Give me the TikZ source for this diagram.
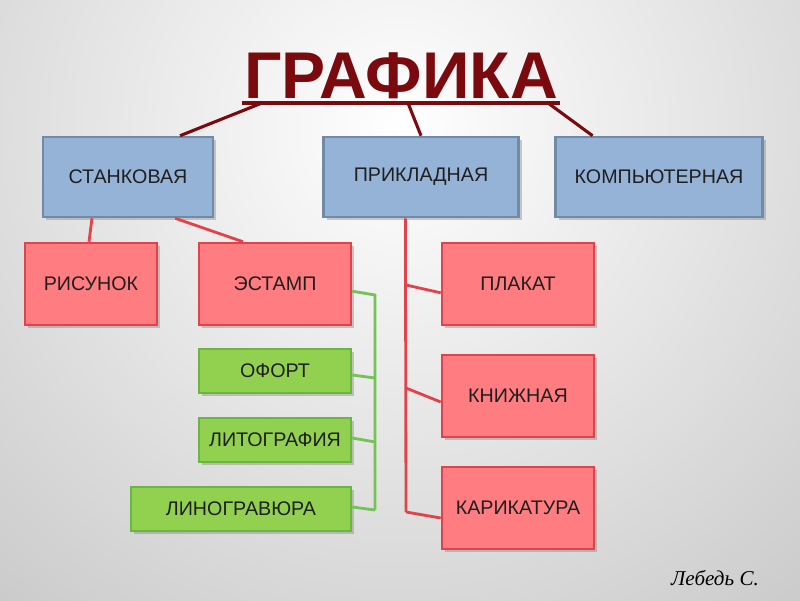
\documentclass[tikz,border=0pt]{standalone}
\usepackage{fontspec}
\setmainfont{Liberation Sans}
\newfontfamily\signfont{Liberation Serif}
\usetikzlibrary{positioning, shadows}
\definecolor{titlered}{HTML}{7B0A0E}
\definecolor{bluefill}{HTML}{95B3D7}
\definecolor{blueedge}{HTML}{6F8BA7}
\definecolor{redfill}{HTML}{FF7C80}
\definecolor{rededge}{HTML}{E2434A}
\definecolor{greenfill}{HTML}{92D050}
\definecolor{greenedge}{HTML}{68B840}
\definecolor{greenwire}{HTML}{74C455}
\tikzset{
  x=0.025cm, % one unit is one pixel of the slide
  y=-0.025cm, % y runs downwards, as on the slide
  every node/.style={font=\fontsize{14}{16}\selectfont, text=black!88},
  box/.style={rectangle, draw, line width=1.8pt,
    drop shadow={opacity=0.4, shadow xshift=0.08cm, shadow yshift=-0.08cm}},
  kind/.style={box, fill=bluefill, draw=blueedge, minimum width=4.25cm,
    minimum height=2.0cm}, % the three kinds of graphics
  genre/.style={box, fill=redfill, draw=rededge, minimum width=3.8cm,
    minimum height=2.05cm}, % red boxes
  tech/.style={box, fill=greenfill, draw=greenedge, minimum width=3.8cm,
    minimum height=1.1cm}, % green boxes
  topline/.style={draw=titlered, line width=2.2pt},
  redline/.style={draw=rededge, line width=2pt},
  greenline/.style={draw=greenwire, line width=2pt},
}

\begin{document}
\begin{tikzpicture}
    \useasboundingbox (0,0) rectangle (800,600);
    \clip (0,0) rectangle (800,600);
    \shade[inner color=white, outer color=black!33] (400,130) circle (25cm);

    \node[anchor=base, text=titlered,
      font=\fontsize{47}{52}\selectfont\bfseries] (title) at (401,98) {ГРАФИКА};

    % first row
    \node[kind, minimum width=4.25cm] (stank) at (128,177) {СТАНКОВАЯ};
    \node[kind, minimum width=4.87cm] (prikl) at (421,177) {ПРИКЛАДНАЯ};
    \node[kind, minimum width=5.17cm] (komp) at (659,177) {КОМПЬЮТЕРНАЯ};

    % second level
    \node[genre, minimum width=3.3cm] (ris) at (91,284) {РИСУНОК};
    \node[genre] (estamp) at (275,284) {ЭСТАМП};
    \node[genre] (plakat) at (518,284) {ПЛАКАТ};
    \node[genre] (knizh) at (518,396) {КНИЖНАЯ};
    \node[genre] (karik) at (518,508) {КАРИКАТУРА};

    \node[tech] (ofort) at (275,371) {ОФОРТ};
    \node[tech] (litogr) at (275,440) {ЛИТОГРАФИЯ};
    \node[tech, minimum width=5.5cm] (linogr) at (241,509) {ЛИНОГРАВЮРА};

    \node[font=\signfont\itshape\fontsize{15}{17}\selectfont, text=black]
      (sign) at (715,578) {Лебедь С.};

    \coordinate (barL) at (242,103);
    \coordinate (barR) at (560,103);
    \coordinate (tapA) at (262,103);
    \coordinate (tapB) at (408,103);
    \coordinate (tapC) at (548,103);

    \coordinate (p1) at (406,285);
    \coordinate (p2) at (406,388);
    \coordinate (p3) at (406,512);

    \coordinate (g0) at (375,295);
    \coordinate (g1) at (375,378);
    \coordinate (g2) at (375,442);
    \coordinate (g3) at (375,510);

    \draw[topline, line width=3pt] (barL) -- (barR);
    \draw[topline]
    (tapA) edge ([xshift=1.3cm]stank.north)
    (tapB) edge (prikl.north)
    (tapC) edge ([xshift=-1.66cm]komp.north)
    ;

    \draw[redline]
    ([xshift=-0.9cm]stank.south) edge ([xshift=-0.05cm]ris.north)
    ([xshift=1.18cm]stank.south) edge ([xshift=-0.8cm]estamp.north)
    ([xshift=-0.39cm]prikl.south) edge (p3)
    (p1) edge ([yshift=-0.22cm]plakat.west)
    (p2) edge ([yshift=-0.15cm]knizh.west)
    (p3) edge ([yshift=-0.25cm]karik.west)
    ;

    \draw[greenline] ([yshift=-0.18cm]estamp.east) -- (g0) -- (g3);
    \draw[greenline]
    ([yshift=-0.1cm]ofort.east) edge (g1)
    ([yshift=0.05cm]litogr.east) edge (g2)
    ([yshift=0.05cm]linogr.east) edge (g3)
    ;
  \end{tikzpicture}
\end{document}
